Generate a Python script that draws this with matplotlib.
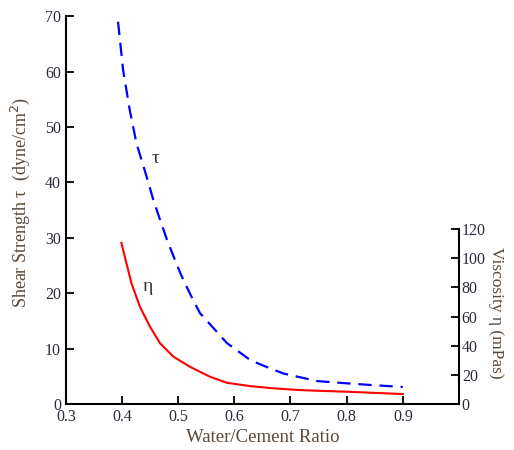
import numpy as np
import matplotlib.pyplot as plt

plt.rcParams['font.family'] = ['Liberation Serif', 'DejaVu Serif']

# shear strength tau (left axis)
wc_tau = [0.393, 0.402, 0.414, 0.426, 0.444, 0.456, 0.468, 0.480, 0.492,
          0.504, 0.516, 0.528, 0.539, 0.563, 0.587, 0.629, 0.660, 0.688,
          0.748, 0.807, 0.85, 0.90]
tau = [69.0, 60.3, 53.0, 47.0, 41.0, 36.8, 33.2, 29.7, 26.6,
       23.6, 21.0, 18.5, 16.4, 13.7, 11.0, 7.9, 6.6, 5.5,
       4.15, 3.7, 3.4, 3.1]

# viscosity eta (right axis)
wc_eta = [0.399, 0.408, 0.417, 0.432, 0.450, 0.468, 0.492, 0.521, 0.557,
          0.587, 0.629, 0.670, 0.718, 0.760, 0.807, 0.85, 0.90]
eta = [110.6, 96.5, 82.8, 66.7, 53.0, 41.6, 32.4, 25.6, 18.7,
       14.6, 12.3, 10.8, 9.6, 9.0, 8.4, 7.7, 6.9]

xticks = [0.3, 0.4, 0.5, 0.6, 0.7, 0.8, 0.9]
lticks = [0, 10, 20, 30, 40, 50, 60, 70]
rticks = [0, 20, 40, 60, 80, 100, 120]

txt = '#2e2a3a'
lab = '#5a4838'

fig = plt.figure(figsize=(5.14, 4.5), dpi=100)
ax = fig.add_axes([0.128, 0.102, 0.765, 0.862])
ax.plot(wc_tau, tau, color='blue', ls=(0, (6, 3.5)), lw=1.6)
ax.set_xlim(0.3, 1.0)
ax.set_ylim(0, 70)
ax.set_xticks(xticks)
ax.set_yticks(lticks)
ax.tick_params(direction='in', length=6, width=1.3, labelsize=11.5, colors='black',
               labelcolor=txt)
ax.spines['top'].set_visible(False)
ax.spines['right'].set_visible(False)
for s in ['left', 'bottom']:
    ax.spines[s].set_linewidth(1.5)
ax.set_xlabel('Water/Cement Ratio', fontsize=13.5, color=lab, labelpad=3)
ax.set_ylabel('Shear Strength \u03c4  (dyne/cm$^2$)', fontsize=13, color=lab)
ax.yaxis.set_label_coords(-0.085, 0.52)
ax.text(0.452, 43.5, '\u03c4', fontsize=14, color='#333333')
ax.text(0.436, 20.5, '\u03b7', fontsize=14, color='#333333')

ax2 = ax.twinx()
ax2.plot(wc_eta, eta, color='red', lw=1.5)
ax2.set_ylim(0, 266)
ax2.set_yticks(rticks)
ax2.spines['right'].set_bounds(0, 120)
ax2.spines['right'].set_linewidth(1.5)
for s in ['top', 'left', 'bottom']:
    ax2.spines[s].set_visible(False)
ax2.tick_params(direction='in', length=6, width=1.3, labelsize=11.5, labelcolor=txt,
                pad=2)
ax2.set_ylabel('Viscosity \u03b7 (mPas)', fontsize=12.5, color=lab, rotation=270)
ax2.yaxis.set_label_coords(1.115, 0.235)

fig.savefig('out.png', dpi=100)
